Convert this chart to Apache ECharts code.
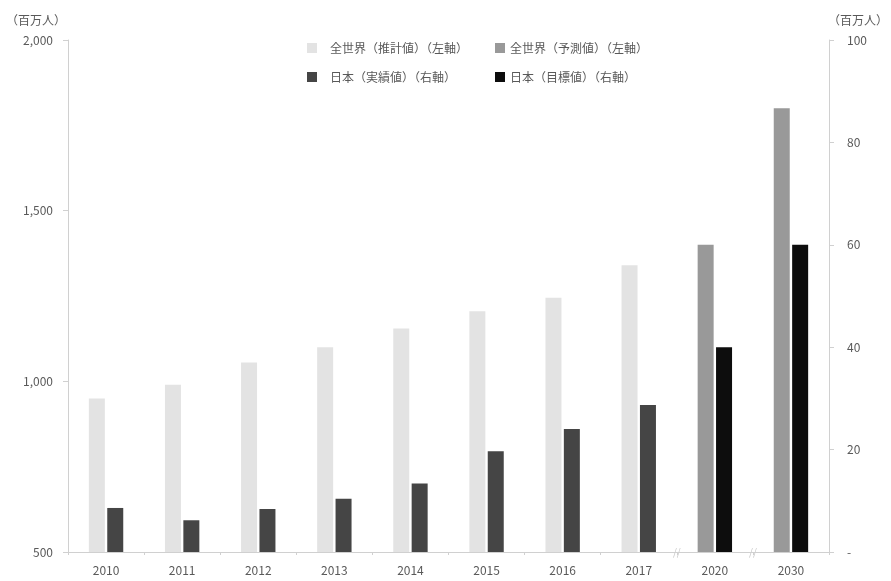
<!DOCTYPE html>
<html>
<head>
<meta charset="utf-8">
<script src="https://cdn.jsdelivr.net/npm/echarts@6/dist/echarts.min.js"></script>
<style>html,body{margin:0;padding:0;background:#fff}#c{width:891px;height:581px}</style>
</head>
<body>
<div id="c"></div>
<script>
const categories = ['2010','2011','2012','2013','2014','2015','2016','2017','2020','2030'];
const worldEstimate = [950, 990, 1055, 1100, 1155, 1205, 1245, 1340, null, null];
const worldForecast = [null, null, null, null, null, null, null, null, 1400, 1800];
const japanActual = [8.6, 6.2, 8.4, 10.4, 13.4, 19.7, 24.0, 28.7, null, null];
const japanTarget = [null, null, null, null, null, null, null, null, 40, 60];
const leftTicks = [500, 1000, 1500, 2000];
const rightTicks = [0, 20, 40, 60, 80, 100];
const unitLabel = '（百万人）';
const names = ['全世界（推計値）（左軸）', '全世界（予測値）（左軸）', '日本（実績値）（右軸）', '日本（目標値）（右軸）'];

const FONT = '"Noto Sans CJK JP", "Noto Sans", sans-serif';
const TXT = '#595959';
const AX = '#d0d0d0';
const chart = echarts.init(document.getElementById('c'));
const option = {
  animation: false,
  backgroundColor: '#fff',
  textStyle: { fontFamily: FONT },
  grid: { left: 68, right: 62, top: 40, bottom: 29, containLabel: false },
  legend: [
    { data: [names[0], names[2]], orient: 'vertical', left: 302, top: 37, itemWidth: 10, itemHeight: 10, itemGap: 17, icon: 'rect',
      textStyle: { fontSize: 12, color: TXT, fontFamily: FONT, padding: [0, 0, 0, 8] } },
    { data: [names[1], names[3]], orient: 'vertical', left: 490, top: 37, itemWidth: 10, itemHeight: 10, itemGap: 17, icon: 'rect',
      textStyle: { fontSize: 12, color: TXT, fontFamily: FONT, padding: [0, 0, 0, 0] } }
  ],
  xAxis: {
    type: 'category', data: categories,
    axisLine: { lineStyle: { color: AX } },
    axisTick: { show: true, length: 3, lineStyle: { color: AX } },
    axisLabel: { color: TXT, fontSize: 12, margin: 12, fontFamily: FONT }
  },
  yAxis: [
    { type: 'value', min: leftTicks[0], max: leftTicks[leftTicks.length - 1], interval: 500,
      name: unitLabel, nameLocation: 'end', nameGap: 14,
      nameTextStyle: { color: TXT, fontSize: 12, fontFamily: FONT, align: 'center', padding: [0, 64, 0, 0] },
      axisLine: { show: true, lineStyle: { color: AX } },
      axisTick: { show: true, length: 5, lineStyle: { color: AX } },
      splitLine: { show: false },
      axisLabel: { color: TXT, fontSize: 12, margin: 15, fontFamily: FONT,
        formatter: v => v.toLocaleString('en-US') } },
    { type: 'value', min: rightTicks[0], max: rightTicks[rightTicks.length - 1], interval: 20,
      name: unitLabel, nameLocation: 'end', nameGap: 14,
      nameTextStyle: { color: TXT, fontSize: 12, fontFamily: FONT, align: 'center', padding: [0, 0, 0, 58] },
      axisLine: { show: true, lineStyle: { color: AX } },
      axisTick: { show: true, length: 5, lineStyle: { color: AX } },
      splitLine: { show: false },
      axisLabel: { color: TXT, fontSize: 12, margin: 18, fontFamily: FONT,
        formatter: v => v === 0 ? '-' : String(v) } }
  ],
  series: [
    { name: names[0], type: 'bar', stack: 'world', yAxisIndex: 0, data: worldEstimate, barWidth: 16, barGap: '15%', itemStyle: { color: '#e3e3e3' } },
    { name: names[1], type: 'bar', stack: 'world', yAxisIndex: 0, data: worldForecast, barWidth: 16, barGap: '15%', itemStyle: { color: '#999999' } },
    { name: names[2], type: 'bar', stack: 'japan', yAxisIndex: 1, data: japanActual, barWidth: 16, barGap: '15%', itemStyle: { color: '#454545' } },
    { name: names[3], type: 'bar', stack: 'japan', yAxisIndex: 1, data: japanTarget, barWidth: 16, barGap: '15%', itemStyle: { color: '#0d0d0d' } }
  ]
};
chart.setOption(option);

// axis break marks between discontinuous years
const baseY = chart.convertToPixel({ yAxisIndex: 0 }, leftTicks[0]);
const marks = [];
[[7, 8], [8, 9]].forEach(([a, b]) => {
  const xa = chart.convertToPixel({ xAxisIndex: 0 }, categories[a]);
  const xb = chart.convertToPixel({ xAxisIndex: 0 }, categories[b]);
  marks.push({ type: 'text', x: (xa + xb) / 2, y: baseY,
    style: { text: '//', fill: '#c8c8c8', fontSize: 10, fontFamily: FONT, align: 'center', verticalAlign: 'middle' } });
});
chart.setOption({ graphic: marks });
</script>
</body>
</html>
